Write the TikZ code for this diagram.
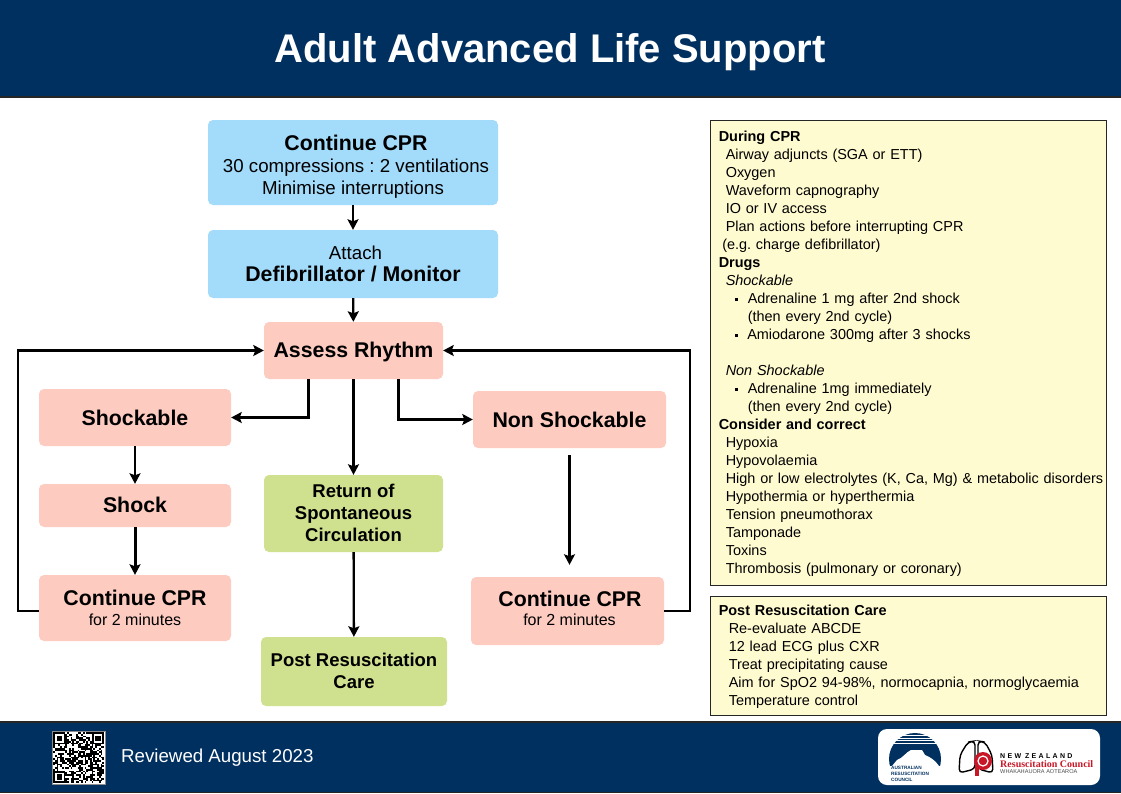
\documentclass[tikz,border=0pt]{standalone}
\usepackage{fontspec}
\setmainfont{Liberation Sans}
\newfontfamily\serifbold{Liberation Serif}
\usetikzlibrary{arrows.meta}

\definecolor{navy}{RGB}{0,48,96}
\definecolor{bluefill}{RGB}{163,219,250}
\definecolor{pinkfill}{RGB}{253,203,192}
\definecolor{greenfill}{RGB}{207,224,143}
\definecolor{yellowfill}{RGB}{255,251,208}
\definecolor{nzred}{RGB}{200,24,40}

\newcommand{\headfont}{\fontsize{21.3}{22}\selectfont\bfseries}
\newcommand{\greenfont}{\fontsize{18.5}{22}\selectfont\bfseries}
\newcommand{\regfont}{\fontsize{18.7}{22}\selectfont}
\newcommand{\subfont}{\fontsize{16}{18}\selectfont\mdseries}
\newcommand{\ind}[1]{\hspace*{#1pt}}
\newcommand{\sqbul}{\rule[2.5pt]{3pt}{3pt}}
% taller first line or deeper last line, to move the text of a box
\newcommand{\pushdown}[1]{\rule{0pt}{#1pt}}
\newcommand{\pushup}[1]{\rule[-#1pt]{0pt}{#1pt}}

\tikzset{
    flowbox/.style={rounded corners=5pt, align=center, inner sep=0pt, text=black},
    bluebox/.style={flowbox, fill=bluefill, minimum width=290, font=\regfont},
    pinkbox/.style={flowbox, fill=pinkfill, minimum width=192, font=\headfont},
    greenbox/.style={flowbox, fill=greenfill, font=\greenfont},
    panel/.style={draw=black!85, line width=1pt, fill=yellowfill, anchor=north west,
        minimum width=396.5, align=left, inner sep=0pt, text width=394,
        font=\fontsize{14.45}{18}\selectfont},
    flow/.style={-{Stealth[length=10.5pt, width=11pt, inset=2pt]}, line width=2.3pt},
}

\begin{document}
\frenchspacing
\begin{tikzpicture}[x=1pt, y=-1pt]
    \useasboundingbox (0, 0) rectangle (1121, 793);

    % Header and footer
    \fill[navy] (0, 0) rectangle (1121, 97);
    \draw[black!85, line width=1.5pt] (0, 97) -- (1121, 97);
    \fill[navy] (0, 722) rectangle (1121, 792);
    \draw[black!85, line width=1.5pt] (0, 722) -- (1121, 722);
    \draw[black!85, line width=1pt] (0, 792) -- (1121, 792);

    \node[text=white, font=\fontsize{40}{42}\selectfont\bfseries] (title) at (550, 52.5)
        {Adult Advanced Life Support};
    \node[text=white, anchor=west, inner sep=0pt, font=\fontsize{18.7}{20}\selectfont] (reviewed) at (121, 757.5)
        {Reviewed August 2023};

    % Flow boxes
    \node[bluebox, minimum height=85] (cpr) at (353, 162.5)
        {{\headfont\pushdown{23}\ind{6}Continue CPR}\\\ind{6}30 compressions : 2 ventilations\\Minimise interruptions};
    \node[bluebox, minimum height=68] (attach) at (353, 264)
        {\ind{5}Attach\\{\headfont Defibrillator / Monitor}};
    \node[pinkbox, minimum width=179, minimum height=57] (assess) at (353.5, 350.5)
        {\pushdown{19}Assess Rhythm};

    \node[pinkbox, minimum height=57] (shockable) at (135, 417.5) {Shockable};
    \node[pinkbox, minimum height=43] (shock) at (135, 505.5) {Shock\pushup{2}};
    \node[pinkbox, minimum height=66] (contl) at (135, 608)
        {Continue CPR\\[-2.5pt]{\subfont for 2 minutes}};

    \node[pinkbox, minimum width=193, minimum height=57] (nonshock) at (569.5, 419.5) {\pushdown{17}Non Shockable};
    \node[pinkbox, minimum width=193, minimum height=68] (contr) at (567.5, 611)
        {\ind{5}Continue CPR\\[-2.5pt]{\subfont\ind{4}for 2 minutes\pushup{5.5}}};

    \node[greenbox, minimum width=179, minimum height=77] (rosc) at (353.5, 513.5)
        {Return of\\Spontaneous\\Circulation\pushup{2}};
    \node[greenbox, minimum width=186, minimum height=69] (post) at (354, 671.5)
        {Post Resuscitation\\Care\pushup{2}};

    % Arrows
    \draw[flow] (cpr) -- (attach);
    \draw[flow] (attach) -- (assess);
    \draw[flow] (assess) -- (rosc);
    \draw[flow] (rosc) -- (post);
    \draw[flow] ([xshift=-45pt]assess.south) |- (shockable.east);
    \draw[flow] ([xshift=45pt]assess.south) |- (nonshock.west);
    \draw[flow] (shockable) -- (shock);
    \draw[flow, line width=3pt] (shock) -- (contl);
    \draw[flow] ([yshift=-7pt]nonshock.south) -- ([yshift=12pt]nonshock.south |- contr.north);
    \draw[flow] ([yshift=-3pt]contl.west) -- ++(-21, 0) |- (assess.west);
    \draw[flow] (contr.east) -- ++(26, 0) |- (assess.east);

    % Side panels
    \node[panel, minimum height=465] (during) at (709.5, 120) {%
        \pushdown{12}\ind{7.5}\textbf{During CPR}\\
        \ind{14.5}Airway adjuncts (SGA or ETT)\\
        \ind{14.5}Oxygen\\
        \ind{14.5}Waveform capnography\\
        \ind{14.5}IO or IV access\\
        \ind{14.5}Plan actions before interrupting CPR\\
        \ind{11}(e.g. charge defibrillator)\\
        \ind{7.5}\textbf{Drugs}\\
        \ind{14.5}\textit{Shockable}\\
        \ind{23.5}\sqbul\ind{10}Adrenaline 1 mg after 2nd shock\\
        \ind{36.5}(then every 2nd cycle)\\
        \ind{23.5}\sqbul\ind{9.5}Amiodarone 300mg after 3 shocks\\
        ~\\
        \ind{14.5}\textit{Non Shockable}\\
        \ind{23.5}\sqbul\ind{10}Adrenaline 1mg immediately\\
        \ind{36.5}(then every 2nd cycle)\\
        \ind{7.5}\textbf{Consider and correct}\\
        \ind{14.5}Hypoxia\\
        \ind{14.5}Hypovolaemia\\
        \ind{14.5}High or low electrolytes (K, Ca, Mg) \& metabolic disorders\\
        \ind{14.5}Hypothermia or hyperthermia\\
        \ind{14.5}Tension pneumothorax\\
        \ind{14.5}Tamponade\\
        \ind{14.5}Toxins\\
        \ind{14.5}Thrombosis (pulmonary or coronary)};
    \node[panel, minimum height=119] (postcare) at (709.5, 596) {%
        \pushdown{12}\ind{7.5}\textbf{Post Resuscitation Care}\\
        \ind{17.5}Re-evaluate ABCDE\\
        \ind{17.5}12 lead ECG plus CXR\\
        \ind{17.5}Treat precipitating cause\\
        \ind{17.5}Aim for SpO2 94-98\%, normocapnia, normoglycaemia\\
        \ind{17.5}Temperature control};

    % QR code
    \draw[black!45, fill=white, line width=0.5pt] (52, 731) rectangle (105, 784);
    \pgfmathsetseed{2023}
    \foreach \i in {0,...,28} {
        \foreach \j in {0,...,28} {
            \pgfmathparse{rnd > 0.5 ? 1 : 0}
            \ifnum\pgfmathresult=1
                \fill[black] ({53+\i*1.76}, {732+\j*1.76}) rectangle ++(1.76, 1.76);
            \fi
        }
    }
    \foreach \qx/\qy in {53/732, 91.9/732, 53/770.9} {
        \fill[black] (\qx, \qy) rectangle ++(12.3, 12.3);
        \fill[white] ({\qx+1.76}, {\qy+1.76}) rectangle ++(8.8, 8.8);
        \fill[black] ({\qx+3.52}, {\qy+3.52}) rectangle ++(5.3, 5.3);
    }

    % Logos
    \fill[white, rounded corners=9pt] (878, 729) rectangle (1100, 785);

    \begin{scope}
        \clip (889, 733) rectangle (941, 765);
        \fill[navy] (915, 759) circle (26);
        \foreach \sy/\sh in {735/1.3, 737.5/1.3, 740/1.3, 742.5/1.2} {
            \fill[white] (885, \sy) rectangle (945, {\sy+\sh});
        }
        \fill[white] (892, 766) -- (897, 760) .. controls (903, 758) and (906, 752) .. (911, 750)
            -- (922, 750) -- (925, 755) .. controls (930, 757) and (935, 760) .. (939, 766) -- cycle;
    \end{scope}
    \node[anchor=north west, inner sep=0pt, align=left, text=navy,
        font=\fontsize{4.7}{5.8}\selectfont\bfseries] (arc) at (891, 766.5)
        {AUSTRALIAN\\RESUSCITATION\\COUNCIL};

    \draw[black, line width=1.4pt, fill=white, rounded corners=4pt]
        (975, 741) -- (968, 742) -- (960, 755) -- (959, 773) -- (975, 769) -- cycle;
    \draw[black, line width=1.4pt, fill=white, rounded corners=4pt]
        (978, 741) -- (985, 742) -- (992, 755) -- (993, 773) -- (978, 769) -- cycle;
    \fill[nzred] (983, 761) circle (9);
    \fill[nzred] (975, 761) rectangle (979, 776);
    \draw[white, line width=1.2pt] (983, 761) circle (5);
    \fill[nzred] (983, 761) circle (2);

    \node[anchor=west, inner sep=0pt, font=\fontsize{7}{8}\selectfont\bfseries] (nz) at (1000, 756)
        {N\,\,E\,\,W\ \ Z\,\,E\,\,A\,\,L\,\,A\,\,N\,\,D};
    \node[anchor=west, inner sep=0pt, text=nzred, font=\serifbold\fontsize{10}{11}\selectfont\bfseries]
        (council) at (1000, 764) {Resuscitation Council};
    \node[anchor=west, inner sep=0pt, text=black!70, font=\fontsize{5.6}{6}\selectfont] (maori) at (1000, 772)
        {WHAKAHAUORA AOTEAROA};
\end{tikzpicture}
\end{document}
